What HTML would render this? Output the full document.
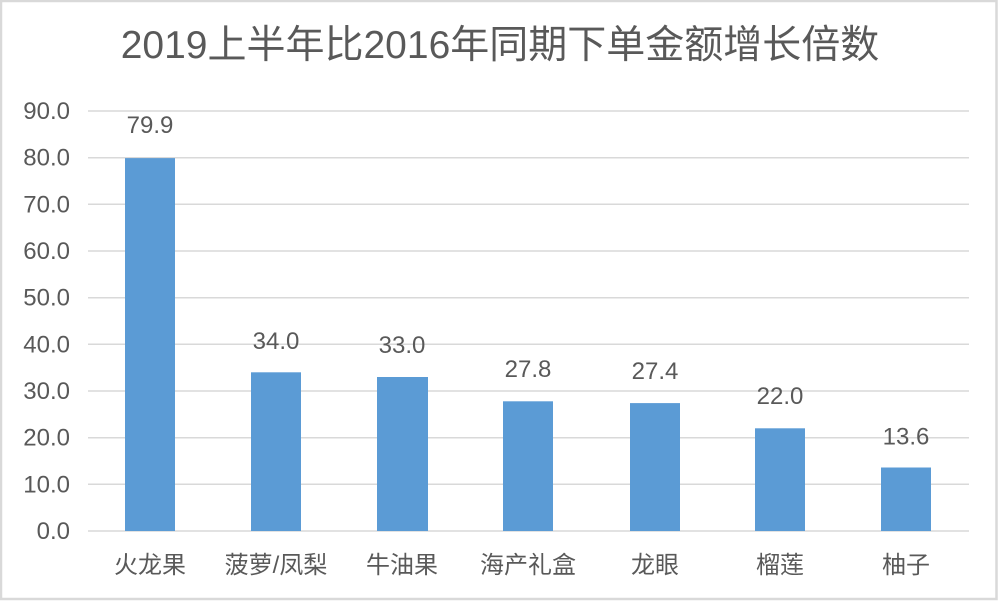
<!DOCTYPE html>
<html>
<head>
<meta charset="utf-8">
<style>
html,body{margin:0;padding:0;background:#fff;}
svg{display:block;}
text{font-family:"Liberation Sans","Noto Sans CJK SC",sans-serif;fill:#595959;}
</style>
</head>
<body>
<svg width="1000" height="601" viewBox="0 0 1000 601" xmlns="http://www.w3.org/2000/svg">
<rect x="0" y="0" width="1000" height="601" fill="#fff"/>
<rect x="1" y="1" width="995.5" height="598" fill="none" stroke="#d9d9d9" stroke-width="2.5"/>
<text x="500" y="58" font-size="39" text-anchor="middle">2019上半年比2016年同期下单金额增长倍数</text>
<g stroke="#d9d9d9" stroke-width="1.5">
<line x1="88" x2="969" y1="111" y2="111"/>
<line x1="88" x2="969" y1="157.7" y2="157.7"/>
<line x1="88" x2="969" y1="204.3" y2="204.3"/>
<line x1="88" x2="969" y1="251" y2="251"/>
<line x1="88" x2="969" y1="297.7" y2="297.7"/>
<line x1="88" x2="969" y1="344.3" y2="344.3"/>
<line x1="88" x2="969" y1="391" y2="391"/>
<line x1="88" x2="969" y1="437.7" y2="437.7"/>
<line x1="88" x2="969" y1="484.3" y2="484.3"/>
<line x1="88" x2="969" y1="531" y2="531"/>
</g>
<g font-size="24" text-anchor="end">
<text x="70" y="119">90.0</text>
<text x="70" y="165.7">80.0</text>
<text x="70" y="212.3">70.0</text>
<text x="70" y="259">60.0</text>
<text x="70" y="305.7">50.0</text>
<text x="70" y="352.3">40.0</text>
<text x="70" y="399">30.0</text>
<text x="70" y="445.7">20.0</text>
<text x="70" y="492.3">10.0</text>
<text x="70" y="539">0.0</text>
</g>
<g fill="#5b9bd5">
<rect x="125" y="158.1" width="50" height="372.9"/>
<rect x="251" y="372.3" width="50" height="158.7"/>
<rect x="377" y="377" width="51" height="154"/>
<rect x="503" y="401.3" width="50" height="129.7"/>
<rect x="630" y="403.1" width="50" height="127.9"/>
<rect x="755" y="428.3" width="50" height="102.7"/>
<rect x="881" y="467.5" width="50" height="63.5"/>
</g>
<g font-size="24" text-anchor="middle">
<text x="150" y="133">79.9</text>
<text x="276" y="349">34.0</text>
<text x="402" y="353">33.0</text>
<text x="528" y="377">27.8</text>
<text x="655" y="379">27.4</text>
<text x="780" y="404">22.0</text>
<text x="906" y="444.5">13.6</text>
</g>
<g font-size="24" text-anchor="middle">
<text x="150" y="573">火龙果</text>
<text x="276" y="573">菠萝/凤梨</text>
<text x="402" y="573">牛油果</text>
<text x="528" y="573">海产礼盒</text>
<text x="655" y="573">龙眼</text>
<text x="780" y="573">榴莲</text>
<text x="906" y="573">柚子</text>
</g>
</svg>
</body>
</html>
